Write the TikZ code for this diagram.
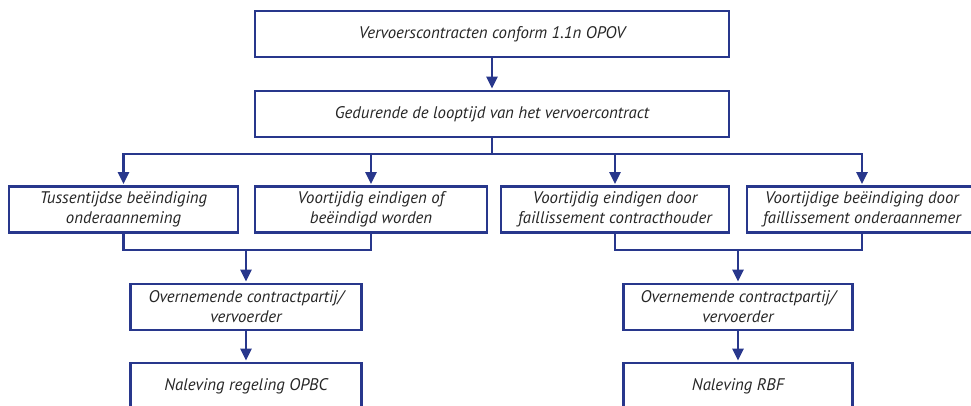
\documentclass[tikz,border=0pt]{standalone}
\usepackage{fontspec}
\setmainfont{PT Sans}
\usepackage{xcolor}
\usetikzlibrary{arrows.meta, positioning}

\definecolor{flowblue}{RGB}{40,55,140}

\tikzset{
	box/.style={draw=flowblue, line width=2.8pt, align=center, minimum height=46pt,
		inner sep=2pt, font=\fontsize{16.8}{20}\selectfont\itshape, text=black!85},
	line/.style={draw=flowblue, line width=2.8pt},
	arrow/.style={line, -{Triangle[width=11pt, length=12pt]}, shorten >=1pt}
}

\begin{document}
\begin{tikzpicture}[x=1pt, y=-1pt]
		\useasboundingbox (0,0) rectangle (971,406);

		% top of the chart
		\node[box, minimum width=474pt] (contracts) at (492,34) {Vervoerscontracten conform 1.1n OPOV};
		\node[box, minimum width=474pt] (period) at (492,114) {Gedurende de looptijd van het vervoercontract};

		% the four ways a contract ends
		\node[box, minimum width=229pt] (tussen) at (123.5,209.5) {Tussentijdse beëindiging\\onderaanneming};
		\node[box, minimum width=232pt] (ended) at (371,209.5) {Voortijdig eindigen of\\beëindigd worden};
		\node[box, minimum width=228pt] (houder) at (615,209.5) {Voortijdig eindigen door\\faillissement contracthouder};
		\node[box, minimum width=230pt] (nemer) at (862,209.5) {Voortijdige beëindiging door\\faillissement onderaannemer};

		% taking over, left and right
		\node[box, minimum width=231pt] (takeL) at (246,307) {Overnemende contractpartij/\\vervoerder};
		\node[box, minimum width=229pt] (takeR) at (738,307) {Overnemende contractpartij/\\vervoerder};
		\node[box, minimum width=231pt] (opbc) at (246,386) {Naleving regeling OPBC};
		\node[box, minimum width=229pt] (rbf) at (738,386) {Naleving RBF};

		\coordinate (split) at (492,154);
		\coordinate (mergeL) at (246,250);
		\coordinate (mergeR) at (738,250);

		\draw[arrow] (contracts) -- (period);
		\draw[line] (period.south) -- (split);
		\draw[arrow] (split) -| (tussen.north);
		\draw[arrow] (split) -| (ended.north);
		\draw[arrow] (split) -| (houder.north);
		\draw[arrow] (split) -| (nemer.north);

		\draw[line] (tussen.south) |- (mergeL) -| (ended.south);
		\draw[line] (houder.south) |- (mergeR) -| (nemer.south);
		\draw[arrow] (mergeL) -- (takeL);
		\draw[arrow] (mergeR) -- (takeR);
		\draw[arrow] (takeL) -- (opbc);
		\draw[arrow] (takeR) -- (rbf);
	\end{tikzpicture}
\end{document}
